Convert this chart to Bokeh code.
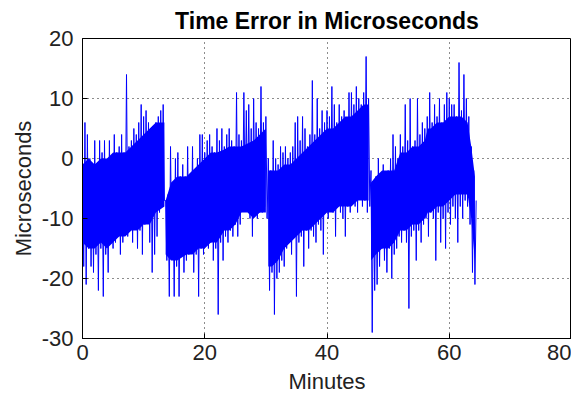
from bokeh.plotting import figure
from bokeh.models import Range1d, FixedTicker
from bokeh.embed import file_html
from bokeh.resources import INLINE

# Sampling interval of the recording (minutes per sample)
sample_step_min = 0.2

# Time error samples (microseconds), in four sawtooth segments.
# Each pair is (upper swing, lower swing) of consecutive samples.
seg1_us = [-1, -18, 6, -21, 4, -15, 0, -18, -1, -19, 3, -16, -2, -22, 3, -15,
           1, -23, 3, -16, -3, -19, 3, -14, 0, -15, 4, -14, 1, -13, 2, -16,
           4, -14, 1, -12, 14, -13, 2, -12, 3, -14, 5, -11, 4, -15, 6, -12,
           9, -16, 7, -11, 8, -10, 6, -14, 5, -19, 5, -16, 6, -13, 7, -9,
           8, -8, 9, -7]
seg2_us = [-7, -17, -6, -23, 2, -16, -4, -23, 0, -18, 1, -23, -3, -16, -1, -19,
           -3, -17, 2, -16, -3, -15, 2, -19, -2, -16, 0, -23, 4, -15, 4, -16,
           1, -14, 3, -15, 4, -14, 2, -17, 1, -15, 5, -26, 3, -14, 5, -17,
           2, -13, 4, -14, 5, -12, 3, -13, 2, -11, 11, -13, 4, -11, 3, -8,
           11, -7, 8, -8, 9, -10, 5, -13, 10, -9, 6, -10, 5, -9, 12, -9,
           6, -8, 7, -10]
seg3_us = [0, -22, -2, -19, 3, -26, 0, -20, -1, -19, 2, -17, 1, -18, 2, -15,
           0, -14, 1, -16, 2, -13, 6, -23, 7, -14, 3, -13, 7, -18, 5, -12,
           2, -15, 4, -12, 13, -13, 4, -14, 10, -11, 5, -12, 8, -16, 6, -9,
           8, -10, 7, -8, 12, -9, 9, -13, 6, -8, 9, -9, 7, -10, 8, -13,
           6, -8, 11, -9, 11, -7, 9, -8, 12, -9, 10, -6, 9, -8, 11, -7,
           17, -9, 10, -8]
seg4_us = [-2, -29, -5, -22, -3, -21, 0, -18, -4, -15, -1, -17, -3, -19, -2, -15,
           0, -20, 4, -16, 2, -15, 0, -13, 4, -14, 2, -12, 9, -14, 3, -25,
           10, -13, 2, -12, 3, -17, 10, -12, 4, -14, 6, -11, 5, -10, 7, -13,
           11, -9, 6, -10, 9, -17, 7, -9, 10, -14, 6, -10, 9, -15, 11, -9,
           10, -11, 9, -8, 9, -10, 7, -14, 16, -8, 8, -10, 14, -7, 10, -8,
           7, -11, 2, -19, -2, -21, -7]

# Dense core of the trace (where the samples overlap into a solid band), per segment:
# minutes, lower edge, upper edge (microseconds)
core1_min = [0.0, 1, 2, 3, 4, 5, 6, 7, 8, 9, 10, 11, 12, 13.4]
core1_lo = [-14, -15, -15, -14, -15, -14, -13, -13, -12, -12, -11, -11, -9, -8]
core1_hi = [-1, 0, -1, 0, 0, 1, 1, 1, 2, 3, 4, 5, 6, 6]
core2_min = [13.6, 14.5, 15.5, 17, 18, 19, 20, 21, 22, 23.2, 24, 25, 26, 27, 28, 29, 30]
core2_lo = [-16, -17, -17, -16, -16, -15, -15, -14, -14, -12, -12, -11, -9, -9, -10, -9, -9]
core2_hi = [-7, -4, -3, -3, -2, -1, 0, 1, 1, 1.5, 2, 2, 2, 2.5, 3, 4, 5]
core3_min = [30.4, 31, 32, 33, 34, 35, 36, 37, 38, 39, 40, 41, 42, 43, 44, 45, 46, 46.8]
core3_lo = [-18, -18, -17, -15, -14, -13, -12, -12, -11, -10, -9, -9, -8, -8, -8, -7, -7, -7]
core3_hi = [-2, -2, -2, -1, -1, 0, 1, 2, 3, 4, 5, 5, 6, 7, 7, 8, 9, 9]
core4_min = [47.2, 48, 49, 50, 51, 52, 53, 54, 55, 56, 56.5, 57, 58, 59, 60, 61, 62, 63, 63.6, 64.2]
core4_lo = [-17, -16, -15, -15, -14, -12, -12, -11, -11, -10, -9, -9, -8, -8, -7, -6, -6, -6, -10, -17]
core4_hi = [-4, -3, -2, -2, -2, 1, 1, 2, 2, 3, 5, 5, 6, 6, 7, 7, 7, 6, 2, -3]

error_us = seg1_us + seg2_us + seg3_us + seg4_us
minutes = [round(i * sample_step_min, 3) for i in range(len(error_us))]

x_ticks = [0, 20, 40, 60, 80]
y_ticks = [-30, -20, -10, 0, 10, 20]

FONT = "Liberation Sans"
BLUE = "#0000ff"

p = figure(width=571, height=396, output_backend="svg", toolbar_location=None,
           x_range=Range1d(0, 80), y_range=Range1d(-30, 20),
           min_border_left=82, min_border_right=0, min_border_top=36,
           min_border_bottom=10)

p.title.text = "Time Error in Microseconds"
p.title.align = "center"
p.title.text_font = FONT
p.title.text_font_size = "23px"
p.title.text_font_style = "bold"
p.title.text_color = "black"

for cm, clo, chi in ((core1_min, core1_lo, core1_hi), (core2_min, core2_lo, core2_hi),
                     (core3_min, core3_lo, core3_hi), (core4_min, core4_lo, core4_hi)):
    p.varea(x=cm, y1=clo, y2=chi, fill_color=BLUE, fill_alpha=1)

p.line(minutes, error_us, line_color=BLUE, line_width=1)

p.xaxis.ticker = FixedTicker(ticks=x_ticks)
p.yaxis.ticker = FixedTicker(ticks=y_ticks)
p.xgrid.ticker = FixedTicker(ticks=x_ticks)
p.ygrid.ticker = FixedTicker(ticks=y_ticks)
p.xaxis.major_label_overrides = {t: str(t) for t in x_ticks}
p.yaxis.major_label_overrides = {t: str(t) for t in y_ticks}

p.xaxis.axis_label = "Minutes"
p.yaxis.axis_label = "Microseconds"

for ax in (p.xaxis[0], p.yaxis[0]):
    ax.major_tick_in = 5
    ax.major_tick_out = 0
    ax.minor_tick_in = 0
    ax.minor_tick_out = 0
    ax.axis_line_color = "black"
    ax.major_tick_line_color = "black"
    ax.major_label_text_font = FONT
    ax.major_label_text_font_size = "22px"
    ax.major_label_text_color = "#222222"
    ax.axis_label_text_font = FONT
    ax.axis_label_text_font_size = "22px"
    ax.axis_label_text_font_style = "normal"
    ax.axis_label_text_color = "#222222"

p.xaxis.major_label_standoff = 6
p.yaxis.major_label_standoff = 9
p.xaxis.axis_label_standoff = 6
p.yaxis.axis_label_standoff = 3

for g in (p.xgrid[0], p.ygrid[0]):
    g.grid_line_color = "black"
    g.grid_line_dash = "1 4"
    g.grid_line_width = 1
    g.grid_line_alpha = 0.9

p.outline_line_color = "black"
p.outline_line_width = 1
p.outline_line_alpha = 1
p.background_fill_color = "white"
p.border_fill_color = "white"

open("out.html", "w").write(file_html(p, INLINE))
